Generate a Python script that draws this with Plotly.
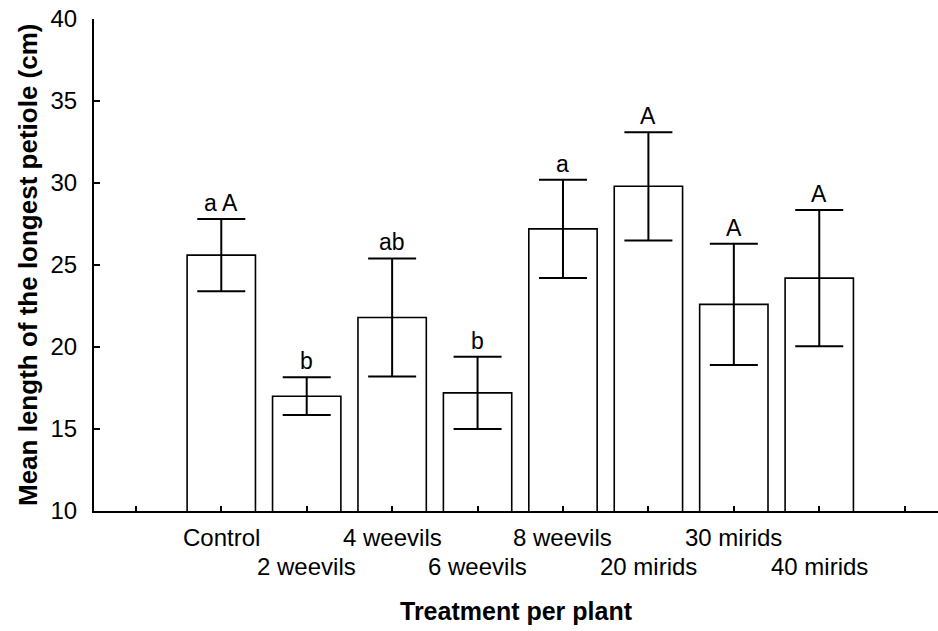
import plotly.graph_objects as go

# Treatments, means and standard errors of the longest petiole (cm)
treatments = ["Control", "2 weevils", "4 weevils", "6 weevils",
              "8 weevils", "20 mirids", "30 mirids", "40 mirids"]
means = [25.6, 17.0, 21.8, 17.2, 27.2, 29.8, 22.6, 24.2]
errors = [2.2, 1.15, 3.6, 2.2, 3.0, 3.3, 3.7, 4.15]
letters = ["a A", "b", "ab", "b", "a", "A", "A", "A"]

positions = list(range(1, len(treatments) + 1))
y_ticks = [10, 15, 20, 25, 30, 35, 40]

FONT = "Liberation Sans, Arial, sans-serif"

fig = go.Figure()
fig.add_trace(go.Bar(
    x=positions,
    y=means,
    width=0.8,
    marker=dict(color="white", line=dict(color="black", width=1.6)),
    error_y=dict(type="data", array=errors, visible=True,
                 color="black", thickness=2, width=24),
    showlegend=False,
    hoverinfo="skip",
))

annotations = []
# significance letters above each error bar
for p, m, e, lab in zip(positions, means, errors, letters):
    annotations.append(dict(
        x=p, y=m + e, xref="x", yref="y", text=lab, showarrow=False,
        yanchor="bottom", yshift=1, font=dict(family=FONT, size=23, color="black"),
    ))
# treatment labels staggered on two rows
for i, (p, name) in enumerate(zip(positions, treatments)):
    annotations.append(dict(
        x=p, y=0, xref="x", yref="paper", text=name, showarrow=False,
        yanchor="middle", yshift=-26 if i % 2 == 0 else -55,
        font=dict(family=FONT, size=24, color="black"),
    ))
annotations.append(dict(
    x=0.5, y=0, xref="paper", yref="paper", text="<b>Treatment per plant</b>",
    showarrow=False, yanchor="middle", yshift=-100,
    font=dict(family=FONT, size=25, color="black"),
))
annotations.append(dict(
    x=0, y=0.5, xref="paper", yref="paper",
    text="<b>Mean length of the longest petiole (cm)</b>",
    showarrow=False, textangle=-90, xanchor="center", xshift=-66,
    font=dict(family=FONT, size=26, color="black"),
))

fig.update_layout(
    width=938, height=631,
    margin=dict(l=94, r=0, t=19, b=120),
    paper_bgcolor="white", plot_bgcolor="white",
    font=dict(family=FONT, size=24, color="black"),
    annotations=annotations,
    bargap=0.2,
)
fig.update_xaxes(
    range=[-0.49, 9.39],
    tickvals=list(range(0, len(treatments) + 2)),
    ticktext=[""] * (len(treatments) + 2),
    ticks="inside", ticklen=5, tickwidth=1.5, tickcolor="black",
    showline=True, linecolor="black", linewidth=2,
    showgrid=False, zeroline=False,
)
fig.update_yaxes(
    range=[10, 40],
    tickvals=y_ticks,
    ticks="inside", ticklen=6, tickwidth=1.5, tickcolor="black",
    showline=True, linecolor="black", linewidth=2,
    showgrid=False, zeroline=False,
    ticklabelstandoff=10,
    tickfont=dict(family=FONT, size=24, color="black"),
)

fig.write_html("out.html")
